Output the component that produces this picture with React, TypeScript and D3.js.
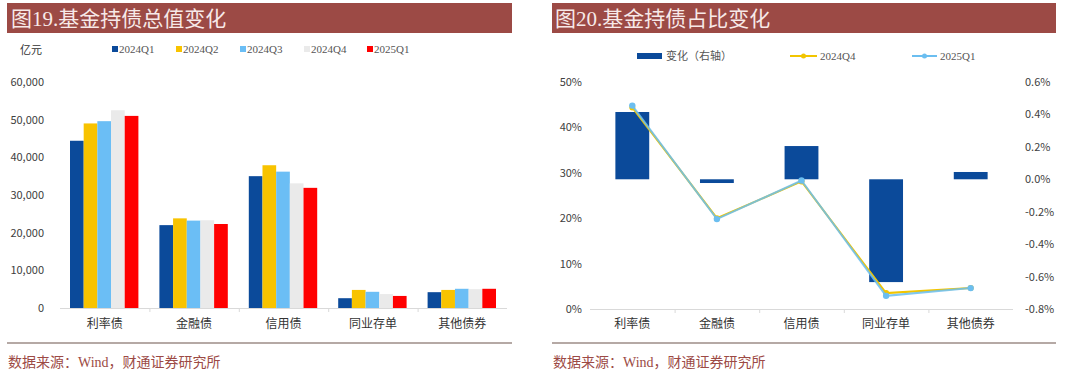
import React from "react";
import * as d3 from "d3";

const categories = ["利率债", "金融债", "信用债", "同业存单", "其他债券"];
const quarters = ["2024Q1", "2024Q2", "2024Q3", "2024Q4", "2025Q1"];
const quarterColors = ["#0B4A9A", "#F8C300", "#6BBEF5", "#EAEAEA", "#FF0000"];
// values in 亿元, indexed [category][quarter]
const totals = [
  [44400, 49000, 49600, 52500, 51000],
  [22000, 23800, 23200, 23300, 22300],
  [35000, 37900, 36200, 33100, 31900],
  [2600, 4800, 4300, 3700, 3200],
  [4200, 4800, 5100, 5000, 5100],
];
const leftTicks = [0, 10000, 20000, 30000, 40000, 50000, 60000];

const share2024Q4 = [0.444, 0.2, 0.281, 0.035, 0.046];
const share2025Q1 = [0.448, 0.198, 0.283, 0.029, 0.046];
const shareChange = [0.00415, -0.00023, 0.00205, -0.00634, 0.00045];
const shareTicks = [0, 0.1, 0.2, 0.3, 0.4, 0.5];
const changeTicks = [-0.008, -0.006, -0.004, -0.002, 0, 0.002, 0.004, 0.006];

const TITLE_BG = "#9C4A45";
const TITLE_FG = "#F7E9E8";
const SRC_COLOR = "#9C4A45";
const SERIF = "'Liberation Serif', 'Noto Sans CJK SC', serif";
const SANS = "'Noto Sans CJK SC', 'Liberation Sans', sans-serif";
const AXIS_TXT = "#404040";

function LeftChart() {
  const x = d3.scaleBand<string>().domain(categories).range([60, 507]);
  const bw = x.bandwidth();
  const xi = d3.scaleBand<string>().domain(quarters).range([10, bw - 11]);
  const y = d3.scaleLinear().domain([0, 60000]).range([308, 82]);
  const fmt = d3.format(",");
  const legendX = [112, 176, 240, 304, 367];
  return (
    <g>
      <rect x={7} y={3} width={505} height={30} fill={TITLE_BG} />
      <text x={11} y={26} fontSize={21} fill={TITLE_FG} fontFamily={SERIF}>图19.基金持债总值变化</text>
      <text x={20} y={54} fontSize={11} fill="#333" fontFamily={SERIF}>亿元</text>
      {quarters.map((q, i) => (
        <g key={q}>
          <rect x={legendX[i]} y={46} width={6} height={6} fill={quarterColors[i]} />
          <text x={legendX[i] + 7} y={53} fontSize={11} fill="#555" fontFamily={SERIF}>{q}</text>
        </g>
      ))}
      {leftTicks.map((t) => (
        <text key={t} x={44} y={y(t) + 4} fontSize={11} textAnchor="end" fill={AXIS_TXT} fontFamily={SANS}>{fmt(t)}</text>
      ))}
      {categories.map((c, ci) => (
        <g key={c}>
          {quarters.map((q, qi) => (
            <rect key={q} x={(x(c) as number) + (xi(q) as number)} y={y(totals[ci][qi])}
              width={xi.bandwidth()} height={y(0) - y(totals[ci][qi])} fill={quarterColors[qi]} />
          ))}
          <text x={(x(c) as number) + bw / 2} y={328} fontSize={12} textAnchor="middle" fill="#333" fontFamily={SANS}>{c}</text>
        </g>
      ))}
      <line x1={60} x2={507} y1={308.5} y2={308.5} stroke="#D9D9D9" />
      {categories.slice(1).map((c) => (
        <line key={c} x1={(x(c) as number) + 0.5} x2={(x(c) as number) + 0.5} y1={308} y2={312} stroke="#D9D9D9" />
      ))}
      <line x1={7} x2={512} y1={343} y2={343} stroke="#B5A9A5" strokeWidth={2} />
      <text x={8} y={367} fontSize={14} fill={SRC_COLOR} fontFamily={SERIF}>数据来源：Wind，财通证券研究所</text>
    </g>
  );
}

function RightChart() {
  const x = d3.scaleBand<string>().domain(categories).range([590, 1013]);
  const bw = x.bandwidth();
  const yL = d3.scaleLinear().domain([0, 0.5]).range([309, 82]);
  const yR = d3.scaleLinear().domain([-0.008, 0.006]).range([309, 82]);
  const cx = (c: string) => (x(c) as number) + bw / 2;
  const line = d3.line<number>().x((_, i) => cx(categories[i])).y((v) => yL(v));
  const barW = bw * 0.4;
  const fmtR = (v: number) => (v * 100).toFixed(1) + "%";
  const BLUE = "#6BBEF0";
  const YEL = "#F2C500";
  return (
    <g>
      <rect x={552} y={3} width={504} height={30} fill={TITLE_BG} />
      <text x={555} y={26} fontSize={21} fill={TITLE_FG} fontFamily={SERIF}>图20.基金持债占比变化</text>
      <rect x={637} y={53} width={25} height={6} fill="#0B4A9A" />
      <text x={666} y={60} fontSize={11} fill="#555" fontFamily={SERIF}>变化（右轴）</text>
      <line x1={790} x2={817} y1={56} y2={56} stroke={YEL} strokeWidth={2} />
      <circle cx={803.5} cy={56} r={2.5} fill={YEL} />
      <text x={820} y={60} fontSize={11} fill="#555" fontFamily={SERIF}>2024Q4</text>
      <line x1={912} x2={937} y1={56} y2={56} stroke={BLUE} strokeWidth={2} />
      <circle cx={924.5} cy={56} r={2.5} fill={BLUE} />
      <text x={940} y={60} fontSize={11} fill="#555" fontFamily={SERIF}>2025Q1</text>
      {shareTicks.map((t) => (
        <text key={t} x={582} y={yL(t) + 4} fontSize={11} textAnchor="end" fill={AXIS_TXT} fontFamily={SANS}>{Math.round(t * 100) + "%"}</text>
      ))}
      {changeTicks.map((t) => (
        <text key={t} x={1025} y={yR(t) + 4} fontSize={11} fill={AXIS_TXT} fontFamily={SANS}>{fmtR(t)}</text>
      ))}
      {categories.map((c, i) => (
        <rect key={c} x={cx(c) - barW / 2} y={Math.min(yR(shareChange[i]), yR(0))} width={barW}
          height={Math.abs(yR(shareChange[i]) - yR(0))} fill="#0B4A9A" />
      ))}
      <line x1={590} x2={1013} y1={309.5} y2={309.5} stroke="#D9D9D9" />
      {categories.slice(1).map((c) => (
        <line key={c} x1={(x(c) as number) + 0.5} x2={(x(c) as number) + 0.5} y1={309} y2={313} stroke="#D9D9D9" />
      ))}
      <path d={line(share2024Q4) || ""} fill="none" stroke={YEL} strokeWidth={2} />
      {share2024Q4.map((v, i) => (
        <circle key={i} cx={cx(categories[i])} cy={yL(v)} r={3} fill={YEL} />
      ))}
      <path d={line(share2025Q1) || ""} fill="none" stroke={BLUE} strokeWidth={2} strokeOpacity={0.85} />
      {share2025Q1.map((v, i) => (
        <circle key={i} cx={cx(categories[i])} cy={yL(v)} r={3.2} fill={BLUE} />
      ))}
      {categories.map((c) => (
        <text key={c} x={cx(c)} y={328} fontSize={12} textAnchor="middle" fill="#333" fontFamily={SANS}>{c}</text>
      ))}
      <line x1={552} x2={1056} y1={343} y2={343} stroke="#B5A9A5" strokeWidth={2} />
      <text x={553} y={367} fontSize={14} fill={SRC_COLOR} fontFamily={SERIF}>数据来源：Wind，财通证券研究所</text>
    </g>
  );
}

export default function App() {
  return (
    <svg width={1080} height={375} style={{ position: "absolute", left: 0, top: 0, display: "block", background: "#fff" }}>
      <rect x={0} y={0} width={1080} height={375} fill="#fff" />
      <LeftChart />
      <RightChart />
    </svg>
  );
}
